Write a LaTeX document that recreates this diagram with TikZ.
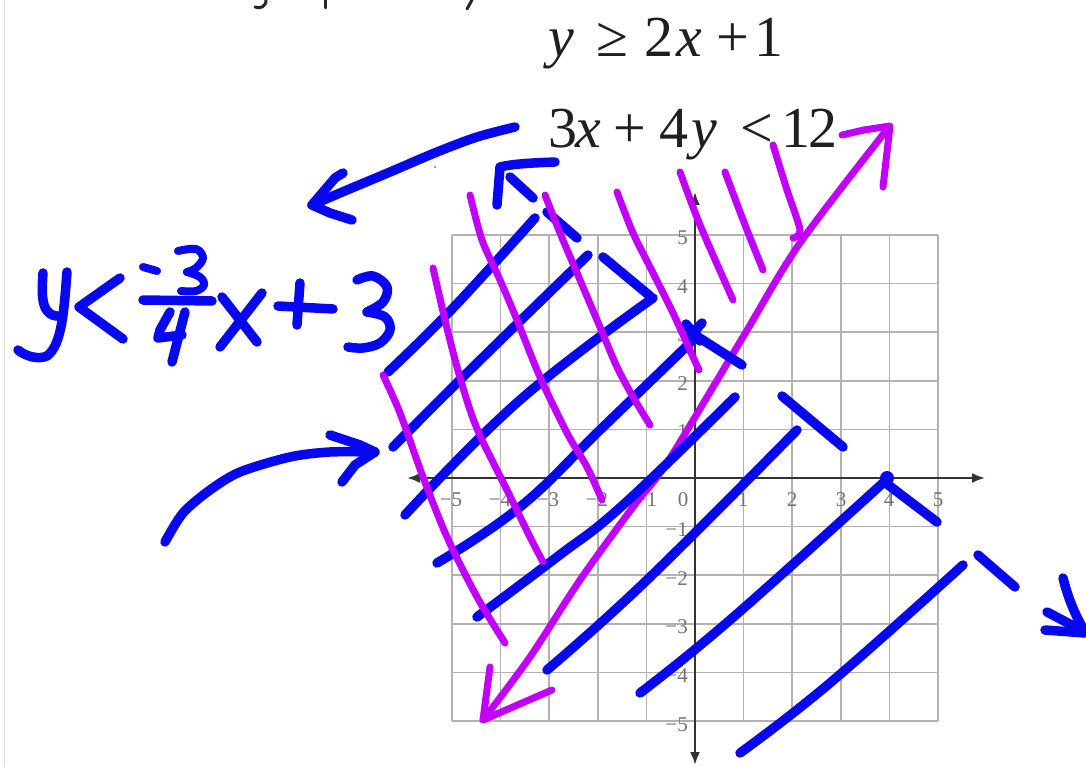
\documentclass[tikz,border=0pt]{standalone}
\usepackage{fontspec}
\setmainfont{Liberation Serif}
\usetikzlibrary{arrows.meta}
\definecolor{penblue}{RGB}{8,8,240}
\definecolor{penmag}{RGB}{192,0,250}
\begin{document}
\begin{tikzpicture}[x=1pt,y=-1pt,
  bluepen/.style={draw=penblue,line width=9.5pt,line cap=round,line join=round},
  magpen/.style={draw=penmag,line width=7pt,line cap=round,line join=round},
  gridline/.style={draw=black!30,line width=1.6pt},
  axisline/.style={draw=black!80,line width=2.2pt,{Latex[length=13pt,width=10pt]}-{Latex[length=13pt,width=10pt]}},
  ticklab/.style={font=\fontsize{21}{21}\selectfont,text=black!55,inner sep=0pt},
  eqtext/.style={font=\fontsize{58}{58}\selectfont,text=black!88,inner sep=0pt,anchor=base west},
  inkmark/.style={draw=black!85,line width=3pt,line cap=round}]
\useasboundingbox (0,0) rectangle (1086,767);
\fill[white] (0,0) rectangle (1086,767);
\draw[black!12,line width=1pt] (4,0) -- (4,767);
% cut-off text fragments at the top edge
\draw[inkmark] (266,0) .. controls (266,7) and (260,9) .. (255,7);
\draw[inkmark] (325,0) -- (325,8);
\draw[inkmark] (472,0) -- (467,9);
\fill[black!40] (435,167) circle (1.3);
% printed inequalities
\node[eqtext] (eqone) at (548,57) {\textit{y}\hspace{22.2pt}≥\hspace{16.2pt}2\hspace{3pt}\textit{x}\hspace{14.2pt}+\hspace{5.3pt}1};
\node[eqtext] (eqtwo) at (548,148) {3\hspace{-2pt}\textit{x}\hspace{12.2pt}+\hspace{13.3pt}4\hspace{3pt}\textit{y}\hspace{23.2pt}<\hspace{8.3pt}1\hspace{-2pt}2};
% grid
\foreach \i in {-5,...,5}{
  \draw[gridline] ({695+48.6*\i},235) -- ({695+48.6*\i},721);
  \draw[gridline] (452,{478+48.6*\i}) -- (938,{478+48.6*\i});
}
\draw[axisline] (407,478) -- (985,478);
\draw[axisline] (695,765) -- (695,192);
% x tick labels
\node[ticklab] (xm5) at (451,500) {−5};
\node[ticklab] (xm4) at (500,500) {−4};
\node[ticklab] (xm3) at (548,500) {−3};
\node[ticklab] (xm2) at (597,500) {−2};
\node[ticklab] (xm1) at (646,500) {−1};
\node[ticklab] (xz) at (683,500) {0};
\node[ticklab] (xp1) at (743,500) {1};
\node[ticklab] (xp2) at (792,500) {2};
\node[ticklab] (xp3) at (841,500) {3};
\node[ticklab] (xp4) at (889,500) {4};
\node[ticklab] (xp5) at (938,500) {5};
% y tick labels
\node[ticklab,anchor=east] (yp5) at (688,238) {5};
\node[ticklab,anchor=east] (yp4) at (688,287) {4};
\node[ticklab,anchor=east] (yp3) at (688,335) {3};
\node[ticklab,anchor=east] (yp2) at (688,384) {2};
\node[ticklab,anchor=east] (yp1) at (688,432) {1};
\node[ticklab,anchor=east] (ym1) at (688,530) {−1};
\node[ticklab,anchor=east] (ym2) at (688,579) {−2};
\node[ticklab,anchor=east] (ym3) at (688,627) {−3};
\node[ticklab,anchor=east] (ym4) at (688,676) {−4};
\node[ticklab,anchor=east] (ym5) at (688,725) {−5};
% big magenta line y = 2x+1 with arrows
\draw[magpen] plot[smooth,tension=0.5] coordinates {(483,720) (530,657) (580,580) (633,507) (657,477) (677,447) (743,337) (800,243) (889,127)};
\draw[magpen] (842,135) -- (864,130) -- (890,126) -- (883,187);
\draw[magpen] (490,667) -- (483,720) -- (552,690);
% blue hatch lines
\draw[bluepen] plot[smooth,tension=0.7] coordinates {(388,372) (453,308) (535,218)};
\draw[bluepen] plot[smooth,tension=0.7] coordinates {(393,447) (470,370) (588,255)};
\draw[bluepen] plot[smooth,tension=0.7] coordinates {(405,515) (520,400) (653,298)};
\draw[bluepen] plot[smooth,tension=0.7] coordinates {(437,563) (520,507) (600,430) (690,343)};
\draw[bluepen] plot[smooth,tension=0.7] coordinates {(477,617) (557,557) (623,505) (735,397)};
\draw[bluepen] plot[smooth,tension=0.7] coordinates {(547,670) (647,580) (797,430)};
\draw[bluepen] plot[smooth,tension=0.7] coordinates {(640,693) (730,620) (883,483)};
\draw[bluepen] plot[smooth,tension=0.7] coordinates {(740,753) (830,683) (963,565)};
% blue dashed boundary y < -3/4 x + 3
\draw[bluepen] (555,162) .. controls (530,163) and (512,164) .. (500,167) -- (497,205);
\draw[bluepen] (510,177) -- (533,198);
\draw[bluepen] (547,212) -- (577,238);
\draw[bluepen] (603,257) -- (650,296);
\draw[bluepen] (695,335) -- (742,365);
\draw[bluepen] (782,396) -- (843,447);
\draw[bluepen] (887,484) -- (937,522);
\draw[bluepen] (978,555) -- (1015,587);
\draw[bluepen] (1063,578) .. controls (1068,598) and (1075,615) .. (1085,632);
\draw[bluepen] (1047,612) -- (1085,632);
\draw[bluepen] (1045,630) -- (1085,633);
% intercept marks
\draw[bluepen] (686,324) -- (700,341);
\draw[bluepen] (702,323) -- (689,337);
\fill[penblue] (694,332) circle (6.5);
\fill[penblue] (887,478) circle (7);
% magenta hatch lines
\draw[magpen] plot[smooth,tension=0.5] coordinates {(383,375) (400,413) (423,477) (447,537) (477,597) (505,643)};
\draw[magpen] plot[smooth,tension=0.5] coordinates {(433,268) (445,320) (457,367) (470,410) (482,440) (507,490) (530,537) (543,562)};
\draw[magpen] plot[smooth,tension=0.5] coordinates {(470,195) (482,240) (500,280) (517,320) (540,377) (567,433) (587,467) (602,500)};
\draw[magpen] plot[smooth,tension=0.5] coordinates {(545,195) (560,233) (580,280) (600,327) (617,367) (633,397) (650,425)};
\draw[magpen] plot[smooth,tension=0.5] coordinates {(617,192) (633,233) (653,273) (673,313) (693,357) (699,370)};
\draw[magpen] plot[smooth,tension=0.5] coordinates {(680,172) (700,225) (733,300)};
\draw[magpen] plot[smooth,tension=0.5] coordinates {(725,172) (745,225) (763,270)};
\draw[magpen] plot[smooth,tension=0.5] coordinates {(773,145) (787,190) (800,230) (793,238)};
% top-left blue arrow
\draw[bluepen] plot[smooth,tension=0.5] coordinates {(515,127) (477,137) (437,152) (390,172) (340,193) (312,205)};
\draw[bluepen] (343,173) -- (335,178) -- (312,205) -- (330,213) -- (352,220);
% lower-left blue arrow
\draw[bluepen] plot[smooth,tension=0.5] coordinates {(165,542) (183,513) (210,490) (240,472) (290,457) (330,452) (373,452)};
\draw[bluepen] (330,435) -- (360,445) -- (375,452);
\draw[bluepen] (342,482) -- (355,465) -- (375,452);
% handwritten y < -3/4 x + 3
\draw[bluepen] (43,273) .. controls (41,300) and (42,318) .. (62,316);
\draw[bluepen] (67,272) .. controls (64,310) and (62,345) .. (47,356) .. controls (38,360) and (25,356) .. (18,350);
\draw[bluepen] (120,278) -- (79,307) -- (123,339);
\draw[bluepen,line width=8pt] (143,267) -- (157,271);
\draw[bluepen,line width=8pt] plot[smooth,tension=0.6] coordinates {(178,251) (196,249) (203,258) (196,268) (187,272)};
\draw[bluepen,line width=8pt] plot[smooth,tension=0.6] coordinates {(187,272) (200,277) (204,285) (196,291) (181,291)};
\draw[bluepen] (143,300) -- (212,301);
\draw[bluepen] (170,312) -- (160,330) -- (158,338) -- (182,335);
\draw[bluepen] (185,312) -- (172,362);
\draw[bluepen] (222,297) -- (257,342);
\draw[bluepen] (262,293) -- (220,347);
\draw[bluepen] (278,306) -- (333,309);
\draw[bluepen] (300,283) -- (297,325);
\draw[bluepen] plot[smooth,tension=0.6] coordinates {(357,280) (373,276) (387,287) (383,302) (367,312)};
\draw[bluepen] plot[smooth,tension=0.6] coordinates {(367,312) (385,317) (390,330) (380,343) (363,348) (348,347)};
\end{tikzpicture}
\end{document}
